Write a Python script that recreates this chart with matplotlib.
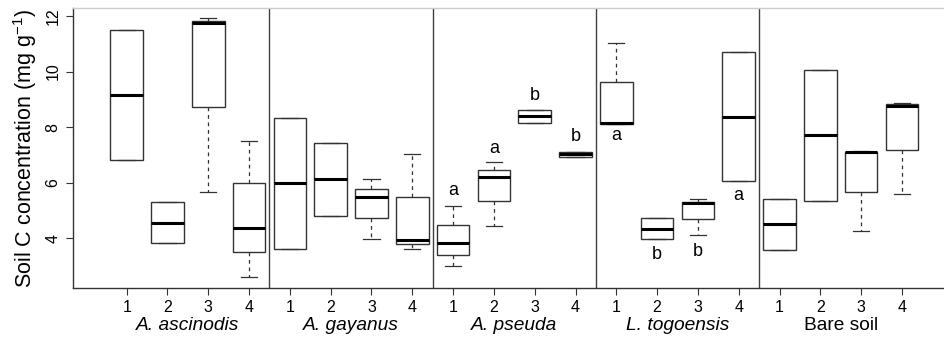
import matplotlib
matplotlib.use("Agg")
import matplotlib.pyplot as plt
from matplotlib.transforms import blended_transform_factory

plt.rcParams['font.family'] = ['Liberation Sans', 'DejaVu Sans']
plt.rcParams['mathtext.fontset'] = 'custom'
plt.rcParams['mathtext.rm'] = 'Liberation Sans'
plt.rcParams['mathtext.default'] = 'regular'

# ---- data ----
groups = ["A. ascinodis", "A. gayanus", "A. pseuda", "L. togoensis", "Bare soil"]
group_italic = [True, True, True, True, False]
tick_labels = ["1", "2", "3", "4"]

whislo = [6.83, 3.81, 5.67, 2.58,
          3.62, 4.78, 3.95, 3.60,
          3.00, 4.43, 8.14, 6.92,
          8.12, 3.95, 4.11, 6.05,
          3.58, 5.33, 4.25, 5.60]
q1 = [6.83, 3.81, 8.71, 3.48,
      3.62, 4.78, 4.71, 3.77,
      3.40, 5.32, 8.14, 6.92,
      8.12, 3.95, 4.68, 6.05,
      3.58, 5.33, 5.67, 7.16]
med = [9.16, 4.55, 11.76, 4.37,
       5.99, 6.11, 5.49, 3.94,
       3.81, 6.20, 8.39, 7.03,
       8.16, 4.32, 5.27, 8.37,
       4.52, 7.70, 7.09, 8.76]
q3 = [11.50, 5.30, 11.82, 5.97,
      8.34, 7.44, 5.78, 5.48,
      4.47, 6.45, 8.61, 7.11,
      9.61, 4.71, 5.31, 10.71,
      5.42, 10.04, 7.11, 8.82]
whishi = [11.50, 5.30, 11.92, 7.48,
          8.34, 7.44, 6.11, 7.03,
          5.14, 6.75, 8.61, 7.11,
          11.04, 4.71, 5.39, 10.71,
          5.42, 10.04, 7.15, 8.88]

# significance letters: (box index 1..20, y value, letter)
letter_pos = [9, 10, 11, 12, 13, 14, 15, 16]
letter_y = [5.73, 7.24, 9.13, 7.65, 7.71, 3.39, 3.51, 5.55]
letter_txt = ["a", "a", "b", "b", "a", "b", "b", "a"]

# ---- figure ----
fig = plt.figure(figsize=(9.45, 3.39), dpi=100)
ax = fig.add_axes([73/945, 51/339, 882.6/945, 280/339])

stats = []
for i in range(len(med)):
    stats.append(dict(whislo=whislo[i], q1=q1[i], med=med[i],
                      q3=q3[i], whishi=whishi[i], fliers=[]))
positions = list(range(1, len(med) + 1))

edge = '#333333'
ax.bxp(stats, positions=positions, widths=0.8, capwidths=0.4,
       showfliers=False, patch_artist=True,
       boxprops=dict(facecolor='white', edgecolor=edge, linewidth=1.0),
       medianprops=dict(color='black', linewidth=2.2, solid_capstyle='butt'),
       whiskerprops=dict(color=edge, linewidth=0.9, linestyle=(0, (3, 3))),
       capprops=dict(color=edge, linewidth=0.9))

ax.set_xlim(-0.316, 21.316)
ax.set_ylim(2.2, 12.29)

for xd in [4.5, 8.5, 12.5, 16.5]:
    ax.axvline(xd, color='#404040', linewidth=1.0)

ax.set_xticks(positions)
ax.set_xticklabels(tick_labels * len(groups))
ax.set_yticks([4, 6, 8, 10, 12])
ax.set_yticklabels(["4", "6", "8", "10", "12"], rotation=90, va='center')
ax.tick_params(axis='both', labelsize=11.5, length=5, width=0.8,
               color='#333333', pad=4)

for s in ['left', 'bottom']:
    ax.spines[s].set_color('#333333')
    ax.spines[s].set_linewidth(1.0)
for s in ['top', 'right']:
    ax.spines[s].set_color('#cccccc')
    ax.spines[s].set_linewidth(1.0)

trans = blended_transform_factory(ax.transData, ax.transAxes)
for g, (name, it) in enumerate(zip(groups, group_italic)):
    ax.text(2.5 + 4 * g, -0.15, name, transform=trans, ha='center',
            va='baseline', fontsize=13.8, style='italic' if it else 'normal')

for p, y, t in zip(letter_pos, letter_y, letter_txt):
    ax.text(p, y, t, ha='center', va='center', fontsize=13)

fig.text(25/945, 1 - 148/339, r'Soil C concentration (mg g$^{-1}$)',
         rotation=90, ha='center', va='center', fontsize=15.5)

fig.savefig("out.png", dpi=100)
